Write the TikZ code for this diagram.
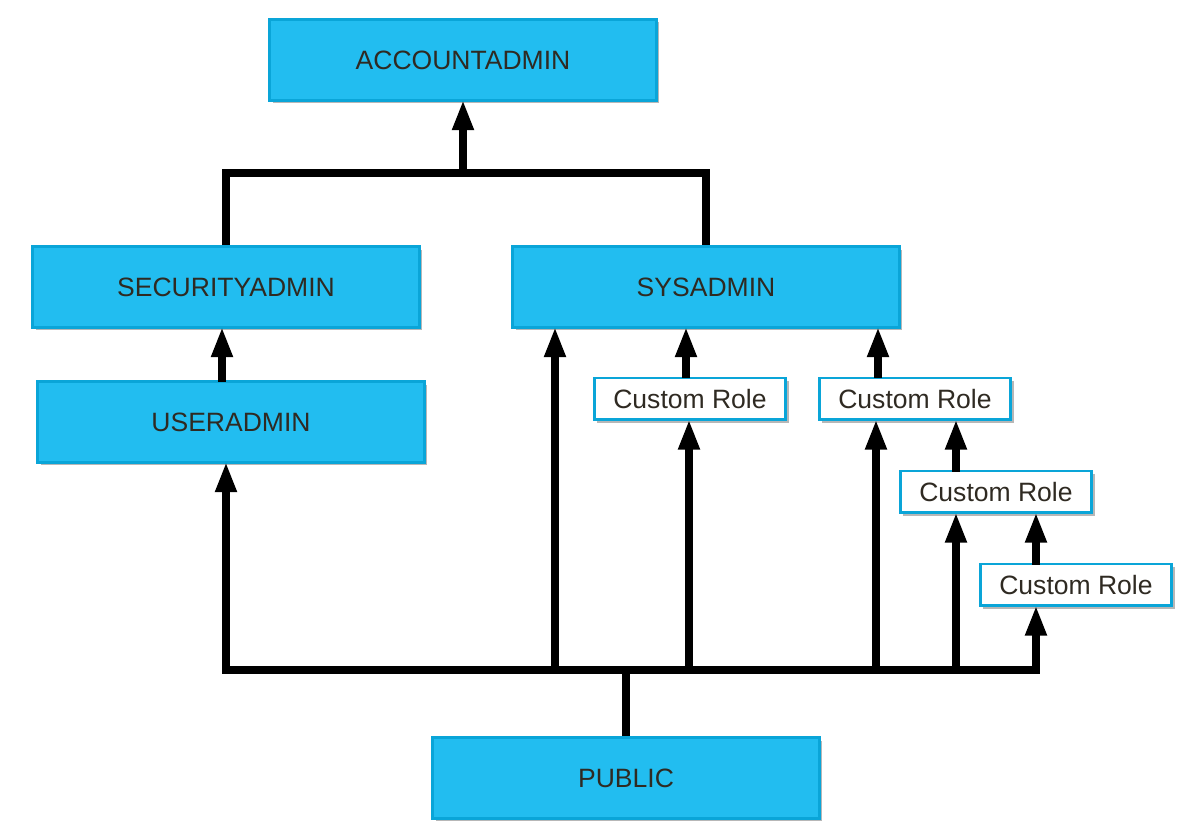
\documentclass[tikz,border=0pt]{standalone}
\usepackage{fontspec}
\setmainfont{Liberation Sans}
\usepackage{xcolor}
\usetikzlibrary{arrows.meta,positioning,shadows}

\definecolor{roleblue}{HTML}{22BDF0}
\definecolor{roleedge}{HTML}{0AA5D8}
\definecolor{roletext}{HTML}{2F2A22}

\tikzset{
    box/.style={draw=roleedge, line width=1.7pt, text=roletext, inner sep=0pt,
        font=\fontsize{15.1}{17}\selectfont,
        drop shadow={shadow xshift=0.06cm, shadow yshift=-0.06cm, fill=black!35, opacity=0.8}},
    rolebox/.style={box, fill=roleblue, minimum width=7.74cm, minimum height=1.62cm},
    custombox/.style={box, fill=white, minimum width=3.84cm, minimum height=0.84cm},
    link/.style={line width=4pt},
    arr/.style={link, shorten >=-1pt, -{Triangle[width=11.5pt, length=17pt]}}
}

\begin{document}
\begin{tikzpicture}[x=0.02cm, y=-0.02cm]
    \useasboundingbox[fill=white] (0,0) rectangle (1201,830);

    % Roles
    \node[rolebox] (acc) at (463,60) {ACCOUNTADMIN};
    \node[rolebox] (sec) at (226,287) {SECURITYADMIN};
    \node[rolebox] (sys) at (706,287) {SYSADMIN};
    \node[rolebox] (usr) at (231,422) {USERADMIN};
    \node[rolebox] (pub) at (626,778) {PUBLIC};

    % Custom roles
    \node[custombox] (cr1) at (690,399) {Custom Role};
    \node[custombox] (cr2) at (915,399) {Custom Role};
    \node[custombox] (cr3) at (996,492) {Custom Role};
    \node[custombox] (cr4) at (1076,585) {Custom Role};

    % Top joint
    \coordinate (top) at (463,173);
    \draw[link] (sec.north) |- (top) -| (sys.north);
    \draw[arr] (top) -- (acc.south);

    % USERADMIN to SECURITYADMIN
    \coordinate (u) at (222,382);
    \draw[arr] (u) -- (u |- sec.south);

    % Custom roles upwards
    \coordinate (c1) at (686,378);
    \coordinate (c2) at (878,378);
    \coordinate (c3) at (956,472);
    \coordinate (c4) at (1036,565);
    \draw[arr] (c1) -- (c1 |- sys.south);
    \draw[arr] (c2) -- (c2 |- sys.south);
    \draw[arr] (c3) -- (c3 |- cr2.south);
    \draw[arr] (c4) -- (c4 |- cr3.south);

    % Bus from PUBLIC
    \coordinate (b1) at (226,670);
    \coordinate (b2) at (555,670);
    \coordinate (b3) at (689,670);
    \coordinate (b4) at (876,670);
    \coordinate (b5) at (956,670);
    \coordinate (b6) at (1036,670);
    \draw[link, line cap=rect] (b1) -- (b6);
    \draw[link] (pub.north) -- (pub.north |- b1);

    \draw[arr] (b1) -- (b1 |- usr.south);
    \draw[arr] (b2) -- (b2 |- sys.south);
    \draw[arr] (b3) -- (b3 |- cr1.south);
    \draw[arr] (b4) -- (b4 |- cr2.south);
    \draw[arr] (b5) -- (b5 |- cr3.south);
    \draw[arr] (b6) -- (b6 |- cr4.south);
\end{tikzpicture}
\end{document}
